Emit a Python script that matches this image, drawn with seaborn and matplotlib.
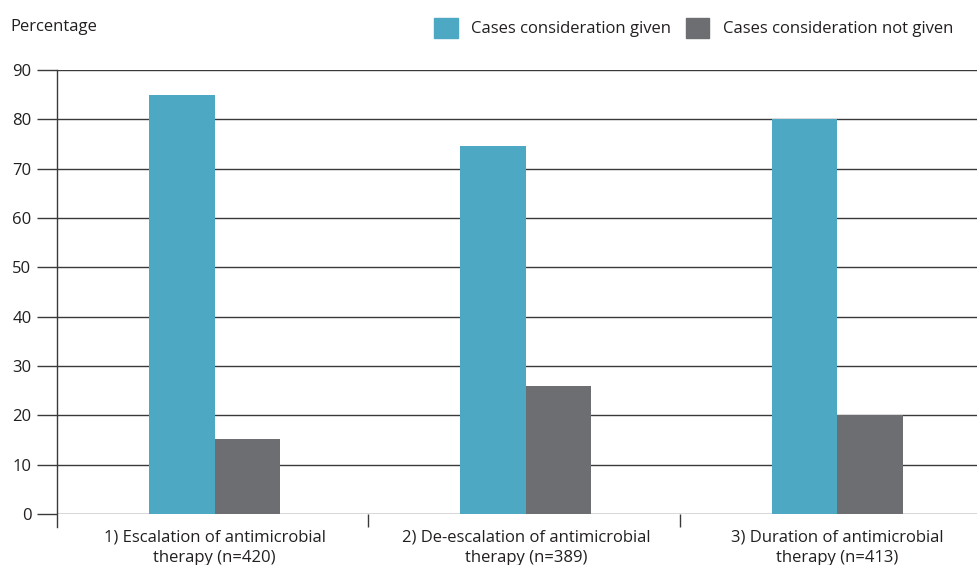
import matplotlib
matplotlib.use("Agg")
import matplotlib.pyplot as plt
import pandas as pd
import seaborn as sns
from matplotlib.ticker import FixedLocator

categories = [
    "1) Escalation of antimicrobial\ntherapy (n=420)",
    "2) De-escalation of antimicrobial\ntherapy (n=389)",
    "3) Duration of antimicrobial\ntherapy (n=413)",
]
given = [85, 74.5, 80]
not_given = [15.3, 25.9, 20]
series = ["Cases consideration given", "Cases consideration not given"]
colors = ["#4DA8C4", "#6D6E71"]

df = pd.DataFrame({
    "category": categories * 2,
    "value": given + not_given,
    "series": [series[0]] * 3 + [series[1]] * 3,
})

sns.set_style("white")
plt.rcParams["font.family"] = ["Open Sans", "DejaVu Sans"]
text_color = "#231F20"
line_color = "#3a3a3a"
fs = 12

fig = plt.figure(figsize=(9.77, 5.65), dpi=100)
ax = fig.add_axes([57 / 977, 1 - 514 / 565, 934 / 977, 444 / 565])

sns.barplot(
    data=df, x="category", y="value", hue="series",
    palette=colors, saturation=1, width=0.42, ax=ax, legend=False,
    linewidth=0,
)

ax.set_ylim(0, 90)
ax.set_xlim(-0.506, 2.494)
ax.set_yticks(range(0, 91, 10))
ax.yaxis.grid(True, color=line_color, linewidth=1)
ax.set_axisbelow(True)
for s in ["top", "right", "bottom"]:
    ax.spines[s].set_visible(False)
ax.spines["left"].set_color(line_color)
ax.spines["left"].set_linewidth(1)
ax.spines["left"].set_bounds(-2.7, 90)
ax.spines["left"].set_clip_on(False)

ax.tick_params(axis="y", left=True, length=14.4, width=1, color=line_color,
               pad=4, labelsize=fs, labelcolor=text_color)
ax.tick_params(axis="x", which="major", bottom=True, length=0, pad=11,
               labelsize=fs, labelcolor=text_color)
ax.xaxis.set_minor_locator(FixedLocator([0.494, 1.494, 2.494]))
ax.tick_params(axis="x", which="minor", bottom=True, length=9.4, width=1,
               color=line_color, direction="out")
ax.set_xlabel("")
ax.set_ylabel("")
for lbl in ax.get_xticklabels():
    lbl.set_linespacing(1.4)

fig.text(10 / 977, 1 - 27 / 565, "Percentage", fontsize=fs,
         color=text_color, va="center", ha="left")

handles = [plt.Rectangle((0, 0), 1, 1, color=c) for c in colors]
fig.legend(handles, series, loc="upper right", bbox_to_anchor=(0.991, 0.995),
           ncol=2, frameon=False, fontsize=fs, handlelength=1.4,
           handleheight=1.5, handletextpad=0.8, columnspacing=0.9,
           labelcolor=text_color)

fig.savefig("out.png", dpi=100)
